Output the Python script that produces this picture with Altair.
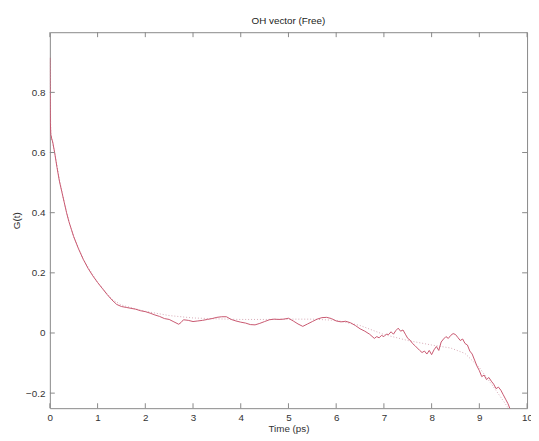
import altair as alt
import pandas as pd

# Red correlation function G(t)
t_data = [0, 0.005, 0.01, 0.02, 0.04, 0.06, 0.1, 0.15, 0.2, 0.25, 0.3, 0.35, 0.4, 0.45, 0.5,
          0.6, 0.7, 0.8, 0.9, 1.0, 1.1, 1.2, 1.3, 1.4, 1.5, 1.6, 1.7, 1.8, 1.9, 2.0,
          2.1, 2.2, 2.3, 2.4, 2.5, 2.6, 2.7, 2.75, 2.8, 2.9, 3.0, 3.1, 3.2, 3.3, 3.4,
          3.5, 3.6, 3.7, 3.8, 3.9, 4.0, 4.1, 4.2, 4.3, 4.4, 4.5, 4.6, 4.7, 4.8, 4.9,
          5.0, 5.1, 5.2, 5.3, 5.4, 5.5, 5.6, 5.7, 5.8, 5.9, 6.0, 6.1, 6.2, 6.3, 6.4,
          6.5, 6.6, 6.7, 6.8, 6.85, 6.9, 6.95, 7.0, 7.05, 7.1, 7.15, 7.2, 7.25, 7.3, 7.35, 7.4,
          7.45, 7.5, 7.55, 7.6, 7.65, 7.7, 7.75, 7.8, 7.85, 7.9, 7.95, 8.0, 8.05, 8.1, 8.15,
          8.2, 8.25, 8.3, 8.35, 8.4, 8.45, 8.5, 8.55, 8.6, 8.65, 8.7, 8.75, 8.8, 8.85, 8.9,
          8.95, 9.0, 9.05, 9.1, 9.15, 9.2, 9.25, 9.3, 9.35, 9.4, 9.45, 9.5, 9.55, 9.6, 9.65]
g_data = [0.915, 0.80, 0.70, 0.66, 0.645, 0.635, 0.60, 0.55, 0.505, 0.47, 0.435, 0.40, 0.37, 0.345, 0.32,
          0.28, 0.245, 0.215, 0.19, 0.168, 0.148, 0.128, 0.11, 0.095, 0.088, 0.085, 0.082, 0.079, 0.074, 0.071,
          0.066, 0.06, 0.055, 0.048, 0.045, 0.037, 0.029, 0.035, 0.044, 0.042, 0.038, 0.04, 0.042, 0.045, 0.048,
          0.052, 0.054, 0.054, 0.045, 0.040, 0.036, 0.033, 0.028, 0.027, 0.032, 0.038, 0.044, 0.046, 0.045, 0.046,
          0.049, 0.04, 0.03, 0.022, 0.03, 0.038, 0.046, 0.051, 0.052, 0.048, 0.04, 0.037, 0.039, 0.034, 0.025,
          0.014, 0.006, -0.004, -0.018, -0.012, -0.016, -0.008, -0.012, -0.004, -0.005, 0.004, -0.004, 0.008, 0.016, 0.006, 0.01,
          -0.004, -0.018, -0.024, -0.035, -0.042, -0.05, -0.058, -0.065, -0.06, -0.07, -0.058, -0.072, -0.056, -0.045, -0.058,
          -0.03, -0.02, -0.012, -0.018, -0.008, -0.002, -0.005, -0.015, -0.025, -0.02, -0.035, -0.04, -0.06, -0.07, -0.09,
          -0.11, -0.125, -0.145, -0.14, -0.155, -0.148, -0.16, -0.17, -0.185, -0.18, -0.19, -0.205, -0.22, -0.235, -0.255]

# Dotted fitted curve
t_fit = [0, 0.02, 0.1, 0.2, 0.3, 0.4, 0.5, 0.7, 1.0, 1.3, 1.5, 1.8, 2.0, 2.5, 3.0, 3.5, 4.0, 4.5,
         5.0, 5.5, 6.0, 6.5, 7.0, 7.5, 8.0, 8.4, 8.7, 9.0, 9.3, 9.5, 9.65]
g_fit = [0.9, 0.66, 0.60, 0.51, 0.435, 0.37, 0.32, 0.245, 0.168, 0.112, 0.093, 0.08, 0.072, 0.058, 0.05,
         0.047, 0.045, 0.045, 0.046, 0.046, 0.042, 0.025, -0.005, -0.025, -0.04, -0.05, -0.068, -0.115,
         -0.18, -0.225, -0.26]

x_ticks = [0, 1, 2, 3, 4, 5, 6, 7, 8, 9, 10]
y_ticks = [-0.2, 0, 0.2, 0.4, 0.6, 0.8]

W, H = 484.5, 381.7
FONT = "Liberation Sans"

df = pd.DataFrame({"t": t_data, "g": g_data})
dfit = pd.DataFrame({"t": t_fit, "g": g_fit})
dxt = pd.DataFrame({"v": x_ticks})
dyt = pd.DataFrame({"v": y_ticks})

xs = alt.Scale(domain=[0, 10], nice=False, zero=False)
ys = alt.Scale(domain=[-0.25, 1.0], nice=False, zero=False)

xaxis = alt.Axis(values=x_ticks, title="Time (ps)", grid=False, domain=False, tickSize=0,
                 labelPadding=5, titlePadding=1, labelFont=FONT, titleFont=FONT,
                 labelFontSize=10, titleFontSize=10, titleFontWeight="normal",
                 labelColor="#333", titleColor="#333", labelFlush=False)
yaxis = alt.Axis(values=y_ticks, title="G(t)", grid=False, domain=False, tickSize=0,
                 labelPadding=5, titlePadding=4, labelFont=FONT, titleFont=FONT,
                 labelFontSize=10, titleFontSize=10, titleFontWeight="normal",
                 labelColor="#333", titleColor="#333", labelFlush=False,
                 format="~g")

fit = alt.Chart(dfit).mark_line(color="#d6a9b5", strokeWidth=1, strokeDash=[1, 2], clip=True).encode(
    x=alt.X("t:Q", scale=xs, axis=xaxis),
    y=alt.Y("g:Q", scale=ys, axis=yaxis),
)
line = alt.Chart(df).mark_line(color="#c8566f", strokeWidth=1, clip=True).encode(
    x=alt.X("t:Q", scale=xs),
    y=alt.Y("g:Q", scale=ys),
)

tick_color = "#888"
xt_bot = alt.Chart(dxt).mark_rule(color=tick_color).encode(
    x=alt.X("v:Q", scale=xs), y=alt.value(H), y2=alt.value(H - 5))
xt_top = alt.Chart(dxt).mark_rule(color=tick_color).encode(
    x=alt.X("v:Q", scale=xs), y=alt.value(0), y2=alt.value(5))
yt_left = alt.Chart(dyt).mark_rule(color=tick_color).encode(
    y=alt.Y("v:Q", scale=ys), x=alt.value(0), x2=alt.value(5))
yt_right = alt.Chart(dyt).mark_rule(color=tick_color).encode(
    y=alt.Y("v:Q", scale=ys), x=alt.value(W - 5), x2=alt.value(W))

chart = alt.layer(fit, line, xt_bot, xt_top, yt_left, yt_right).properties(
    width=W, height=H,
    title=alt.TitleParams("OH vector (Free)", font=FONT, fontSize=10, fontWeight="normal",
                          color="#222", offset=6, anchor="middle"),
    autosize=alt.AutoSizeParams(type="none"),
    padding={"left": 42.5, "top": 21.3, "right": 4, "bottom": 28},
).configure_view(stroke="#888", strokeWidth=1)

chart.save("out.html", embed_options={"renderer": "svg", "actions": False})
